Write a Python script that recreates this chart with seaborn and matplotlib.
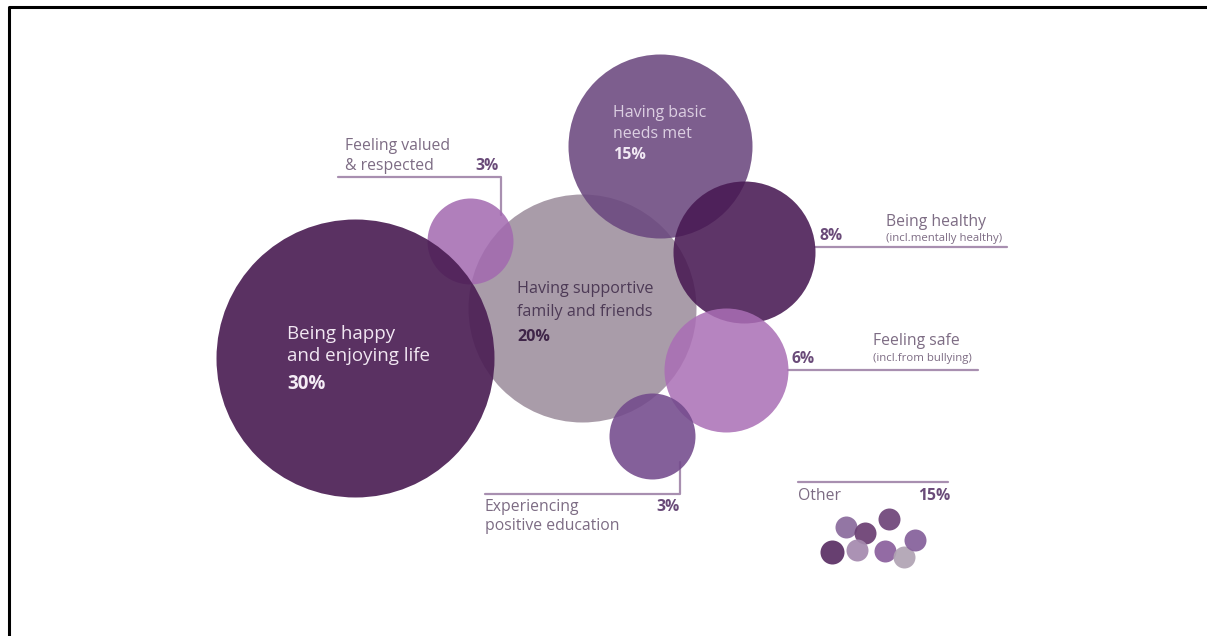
import matplotlib
matplotlib.use("Agg")
import matplotlib.pyplot as plt
import seaborn as sns
import pandas as pd

sns.set_theme(style="white")
plt.rcParams["font.family"] = ["Open Sans", "DejaVu Sans"]

# main bubbles (pixel layout, y down), listed in drawing order
names = ["family", "valued", "basic", "healthy", "safe", "education", "happy"]
cx = [582, 470, 660, 744, 726, 652, 355]
cy = [308, 241, 146, 252, 370, 436, 358]
radius = [114, 43, 92, 71, 62, 43, 139]
colors = ["#a99ca9", "#a269b0", "#6b487f", "#481953", "#aa6eb5", "#734a8c", "#4c1f55"]
alphas = [1.0, 0.85, 0.88, 0.88, 0.85, 0.88, 0.92]

# the "other" dots
other_x = [846, 865, 889, 832, 857, 885, 904, 915]
other_y = [527, 533, 519, 552, 550, 551, 557, 540]
other_r = [11, 11, 11, 12, 11, 11, 11, 11]
other_c = ["#8a6a9c", "#6a3e72", "#6e4479", "#5a2e64", "#a489ae", "#8a5e9c", "#b0a3b3", "#85609a"]

W, H = 1207, 636
fig = plt.figure(figsize=(W / 100, H / 100), dpi=100)
ax = fig.add_axes([0, 0, 1, 1])


def pt_size(r):
    # marker area in pt^2 for a circle of radius r pixels
    return (2 * r * 0.72) ** 2


for i in range(len(names)):
    d = pd.DataFrame({"x": [cx[i]], "y": [cy[i]]})
    sns.scatterplot(data=d, x="x", y="y", s=pt_size(radius[i]), color=colors[i],
                    alpha=alphas[i], linewidth=0, ax=ax, zorder=3 + i, legend=False)

for i in range(len(other_x)):
    d = pd.DataFrame({"x": [other_x[i]], "y": [other_y[i]]})
    sns.scatterplot(data=d, x="x", y="y", s=pt_size(other_r[i]), color=other_c[i],
                    alpha=0.92, linewidth=0, ax=ax, zorder=3, legend=False)

ax.set_xlim(0, W)
ax.set_ylim(H, 0)
ax.set_xlabel("")
ax.set_ylabel("")
ax.axis("off")

line_c = "#a88fb0"
lab_c = "#7d6c84"
pct_c = "#6a4b79"
fs = 11.3

# leader lines
ax.plot([338, 501, 501], [177, 177, 215], color=line_c, lw=1.6, zorder=1)
ax.plot([815, 1007], [247, 247], color=line_c, lw=1.6, zorder=1)
ax.plot([788, 978], [370, 370], color=line_c, lw=1.6, zorder=1)
ax.plot([485, 680, 680], [494, 494, 462], color=line_c, lw=1.6, zorder=1)
ax.plot([798, 948], [482, 482], color=line_c, lw=1.6, zorder=1)

# outside labels
ax.text(345, 146, "Feeling valued", color=lab_c, fontsize=fs, va="center")
ax.text(345, 166, "& respected", color=lab_c, fontsize=fs, va="center")
ax.text(499, 166, "3%", color=pct_c, fontsize=fs, fontweight="bold", va="center", ha="right")

ax.text(886, 222, "Being healthy", color=lab_c, fontsize=fs, va="center")
ax.text(886, 238, "(incl.mentally healthy)", color=lab_c, fontsize=8.2, va="center")
ax.text(819, 236, "8%", color=pct_c, fontsize=fs, fontweight="bold", va="center")

ax.text(873, 341, "Feeling safe", color=lab_c, fontsize=fs, va="center")
ax.text(873, 359, "(incl.from bullying)", color=lab_c, fontsize=8.2, va="center")
ax.text(792, 359, "6%", color=pct_c, fontsize=fs, fontweight="bold", va="center")

ax.text(485, 507, "Experiencing", color=lab_c, fontsize=fs, va="center")
ax.text(485, 526, "positive education", color=lab_c, fontsize=fs, va="center")
ax.text(680, 507, "3%", color=pct_c, fontsize=fs, fontweight="bold", va="center", ha="right")

ax.text(798, 496, "Other", color=lab_c, fontsize=fs, va="center")
ax.text(950, 496, "15%", color=pct_c, fontsize=fs, fontweight="bold", va="center", ha="right")

# labels inside bubbles
ax.text(287, 334, "Being happy", color="#f1e6f2", fontsize=13.5, va="center", zorder=20)
ax.text(287, 356, "and enjoying life", color="#f1e6f2", fontsize=13.5, va="center", zorder=20)
ax.text(287, 384, "30%", color="#f4ecf5", fontsize=13.5, fontweight="bold", va="center", zorder=20)

ax.text(517, 289, "Having supportive", color="#4d3a56", fontsize=11.6, va="center", zorder=20)
ax.text(517, 312, "family and friends", color="#4d3a56", fontsize=11.6, va="center", zorder=20)
ax.text(517, 337, "20%", color="#3f2548", fontsize=11.6, fontweight="bold", va="center", zorder=20)

ax.text(613, 113, "Having basic", color="#dccfe2", fontsize=11.5, va="center", zorder=20)
ax.text(613, 134, "needs met", color="#dccfe2", fontsize=11.5, va="center", zorder=20)
ax.text(613, 155, "15%", color="#f1e9f4", fontsize=11.5, fontweight="bold", va="center", zorder=20)

# frame
ax.plot([9, 9, W + 5], [H + 5, 7, 7], color="black", lw=2.2, zorder=30, clip_on=False)

fig.savefig("out.png", dpi=100)
